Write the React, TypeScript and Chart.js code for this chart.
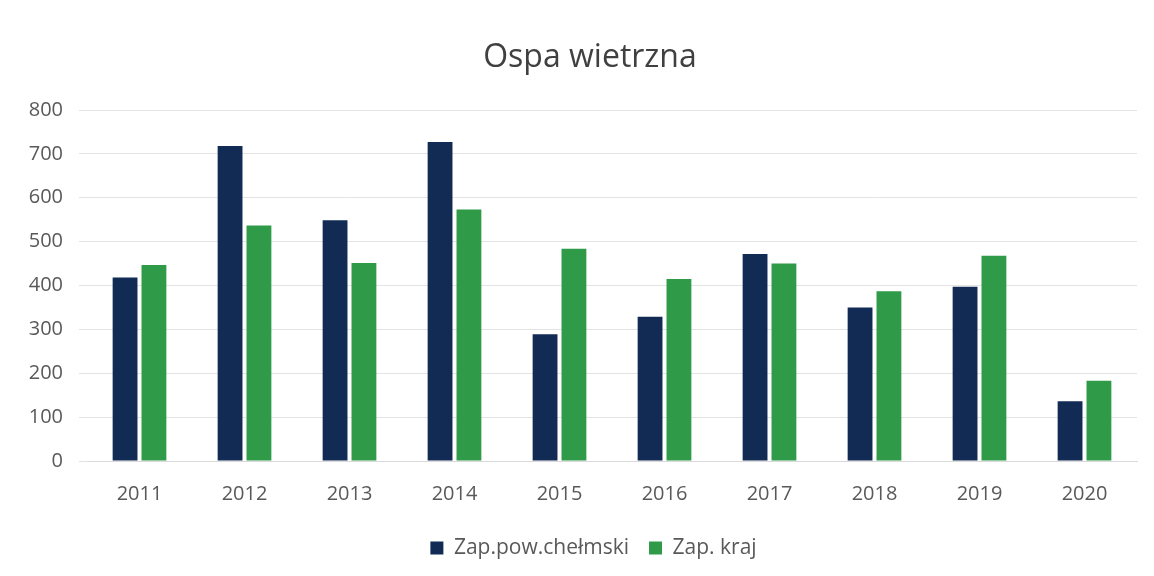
import React, { useEffect, useRef } from "react";
import { Chart, registerables } from "chart.js";

Chart.register(...registerables);

const years = ["2011", "2012", "2013", "2014", "2015", "2016", "2017", "2018", "2019", "2020"];
const powiat = [418, 718, 549, 727, 289, 329, 472, 350, 397, 136];
const kraj = [447, 537, 451, 573, 484, 415, 450, 387, 468, 183];
const seriesNames = ["Zap.pow.chełmski", "Zap. kraj"];
const titleText = "Ospa wietrzna";

const FONT = "'Open Sans', 'Noto Sans', sans-serif";

const titlePlugin = {
  id: "offsetTitle",
  afterLayout(chart: any) {
    if (chart.legend) {
      chart.legend.left += 21;
      chart.legend.right += 21;
    }
  },
  afterDraw(chart: any) {
    const ctx = chart.ctx;
    ctx.save();
    ctx.font = `normal 32px ${FONT}`;
    ctx.fillStyle = "#404040";
    ctx.textAlign = "center";
    ctx.textBaseline = "middle";
    ctx.fillText(titleText, 582, 50);
    ctx.restore();
  },
};

export default function App() {
  const ref = useRef<HTMLCanvasElement | null>(null);
  useEffect(() => {
    if (!ref.current) return;
    const chart = new Chart(ref.current, {
      type: "bar",
      data: {
        labels: years,
        datasets: [
          { label: seriesNames[0], data: powiat, backgroundColor: "#112b55", categoryPercentage: 0.55, barPercentage: 0.86 },
          { label: seriesNames[1], data: kraj, backgroundColor: "#2f9a48", categoryPercentage: 0.55, barPercentage: 0.86 },
        ],
      },
      plugins: [titlePlugin],
      options: {
        responsive: false,
        animation: false,
        layout: { padding: { left: 0, right: 9, top: 102, bottom: 7.5 } },
        plugins: {
          title: { display: false },
          legend: {
            position: "bottom",
            labels: {
              color: "#595959",
              font: { family: FONT, size: 21 },
              boxWidth: 13,
              boxHeight: 13,
              padding: 20,
            },
          },
          tooltip: { enabled: false },
        },
        scales: {
          x: {
            grid: { display: false },
            border: { color: "#d9d9d9" },
            ticks: { color: "#595959", font: { family: FONT, size: 20 }, padding: 13 },
            afterFit: (s: any) => { s.height = 56.5; },
          },
          y: {
            min: 0,
            max: 800,
            ticks: { stepSize: 100, color: "#595959", font: { family: FONT, size: 20 }, padding: 16 },
            grid: { color: "#e3e3e3" },
            border: { display: false },
            afterFit: (s: any) => { s.width = 79; },
          },
        },
      },
    });
    return () => chart.destroy();
  }, []);
  return (
    <div style={{ width: 1138, height: 560, overflow: "hidden" }}>
      <canvas ref={ref} width={1138} height={568} />
    </div>
  );
}
